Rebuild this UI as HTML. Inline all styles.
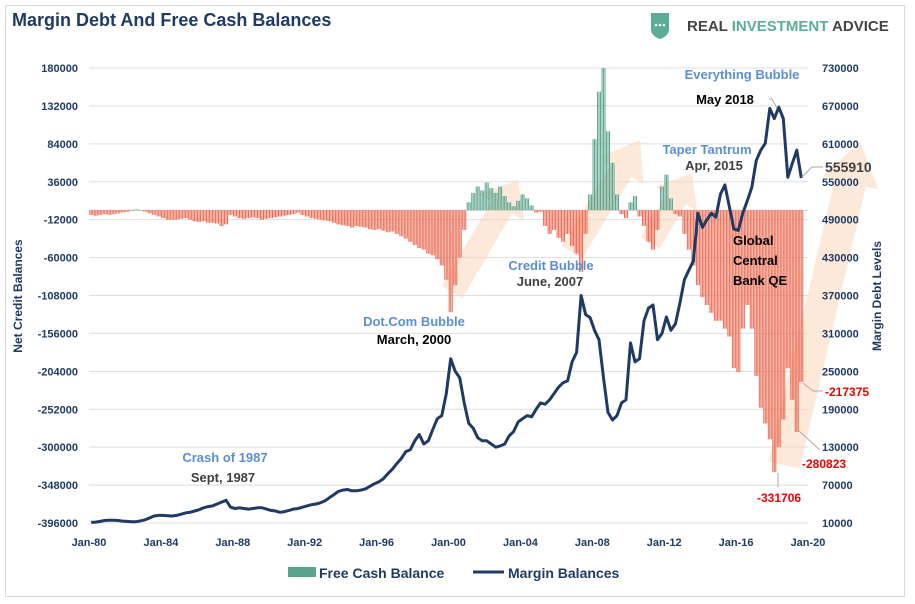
<!DOCTYPE html>
<html><head><meta charset="utf-8"><style>
html,body{margin:0;padding:0;background:#fff}
svg{display:block;font-family:"Liberation Sans",sans-serif}
</style></head><body>
<svg id="chart" width="915" height="604" viewBox="0 0 915 604" xmlns="http://www.w3.org/2000/svg">
<rect x="5.5" y="5.5" width="899" height="591" fill="#fff" stroke="#d9d9d9"/>
<text x="12" y="26" font-size="18" font-weight="bold" fill="#1f3b63">Margin Debt And Free Cash Balances</text>
<g>
<path d="M651 13 L669 13 L669 29 Q669 36 660 39 Q651 36 651 29 Z" fill="#5aae97"/>
<circle cx="656" cy="25" r="1.3" fill="#fff"/><circle cx="660" cy="25" r="1.3" fill="#fff"/><circle cx="664" cy="25" r="1.3" fill="#fff"/>
<text x="687" y="31" font-size="15" font-weight="bold"><tspan fill="#444">REAL </tspan><tspan fill="#5aae97">INVESTMENT </tspan><tspan fill="#444">ADVICE</tspan></text>
</g>
<g id="grid"></g>
<g id="arrows"></g>
<g id="bars"></g>
<g id="line"></g>
<g id="axes"></g>
<g id="notes" font-weight="bold" font-size="13">
<text x="225" y="462" text-anchor="middle" fill="#5b8fd0">Crash of 1987</text>
<text x="223" y="482" text-anchor="middle" fill="#404040">Sept, 1987</text>
<text x="414" y="326" text-anchor="middle" fill="#5b8fd0">Dot.Com Bubble</text>
<text x="414" y="344" text-anchor="middle" fill="#000">March, 2000</text>
<text x="551" y="270" text-anchor="middle" fill="#5b8fd0">Credit Bubble</text>
<text x="550" y="286" text-anchor="middle" fill="#404040">June, 2007</text>
<text x="707" y="154" text-anchor="middle" fill="#5b8fd0">Taper Tantrum</text>
<text x="714" y="170" text-anchor="middle" fill="#404040">Apr, 2015</text>
<text x="742" y="79" text-anchor="middle" fill="#5b8fd0">Everything Bubble</text>
<text x="725" y="104" text-anchor="middle" fill="#000">May 2018</text>
<text x="733" y="245" fill="#000">Global</text>
<text x="733" y="265" fill="#000">Central</text>
<text x="733" y="285" fill="#000">Bank QE</text>
<text x="825" y="172" fill="#404040" font-size="14">555910</text>
<text x="825" y="396" fill="#e00" font-size="12">-217375</text>
<text x="802" y="468" fill="#e00" font-size="12">-280823</text>
<text x="757" y="502" fill="#e00" font-size="12">-331706</text>
<path d="M769 99 L772 99 L777 108" fill="none" stroke="#aaa"/>
<path d="M802 177 L812 167 L823 167" fill="none" stroke="#aaa"/>
<path d="M803 383 L813 391 L823 391" fill="none" stroke="#aaa"/>
<path d="M799 431 L820 450" fill="none" stroke="#aaa"/>
<path d="M778 473 L778 487" fill="none" stroke="#aaa"/>
</g>
<text transform="translate(22,296) rotate(-90)" text-anchor="middle" font-size="12" font-weight="bold" fill="#1f3b63">Net Credit Balances</text>
<text transform="translate(881,296) rotate(-90)" text-anchor="middle" font-size="12" font-weight="bold" fill="#1f3b63">Margin Debt Levels</text>
<g>
<rect x="288" y="567" width="28" height="10" fill="#5ba58f"/>
<text x="319" y="578" font-size="14" font-weight="bold" fill="#1f3b63">Free Cash Balance</text>
<line x1="473" y1="572" x2="504" y2="572" stroke="#1f3b63" stroke-width="3"/>
<text x="508" y="578" font-size="14" font-weight="bold" fill="#1f3b63">Margin Balances</text>
</g>
</svg>
<script>
const startYear = 1980;
const leftTicks = [180000,132000,84000,36000,-12000,-60000,-108000,-156000,-204000,-252000,-300000,-348000,-396000];
const rightTicks = [730000,670000,610000,550000,490000,430000,370000,310000,250000,190000,130000,70000,10000];
const xTickLabels = ["Jan-80","Jan-84","Jan-88","Jan-92","Jan-96","Jan-00","Jan-04","Jan-08","Jan-12","Jan-16","Jan-20"];
const xTickYears = [1980,1984,1988,1992,1996,2000,2004,2008,2012,2016,2020];
// quarterly margin balances, 1980Q1..2019Q3
const marginBalances = [
11000,11500,12500,14000, 14500,14500,14000,13000, 12500,12000,12000,13500, 15000,18000,21000,22000,
22000,21500,21000,22000, 24000,26000,27000,29000, 31000,34000,36000,37000, 40000,43000,46000,35000,
33000,34000,33000,32000, 33000,34000,34000,32000, 30000,29000,27000,28000, 30000,32000,33000,35000,
37000,39000,40000,42000, 45000,50000,55000,60000, 62000,63000,61000,61000, 62000,64000,68000,72000,
75000,80000,88000,95000, 104000,112000,123000,126000, 140000,150000,135000,140000, 158000,175000,180000,215000,
270000,250000,240000,200000, 168000,160000,145000,140000, 140000,135000,130000,132000, 135000,148000,155000,170000,
175000,180000,178000,190000, 200000,198000,205000,215000, 225000,232000,235000,265000, 280000,370000,340000,335000,
315000,300000,240000,185000, 173000,180000,200000,205000, 295000,265000,270000,330000, 350000,355000,300000,310000,
336000,315000,325000,358000, 395000,410000,425000,500000, 478000,490000,500000,494000, 530000,545000,510000,475000,
473000,500000,520000,541000, 584000,600000,611000,666000, 650000,668000,650000,557000, 579000,600000,555910];
// quarterly free cash balances, 1980Q1..2019Q3
const freeCash = [
-6000,-7000,-6000,-5000, -6000,-5000,-4000,-3000, -2000,-1000,1000,0, -2000,-4000,-6000,-8000,
-10000,-12000,-12000,-12000, -11000,-10000,-12000,-14000, -15000,-14000,-16000,-16000, -17000,-20000,-18000,-6000,
-8000,-10000,-11000,-10000, -9000,-10000,-12000,-11000, -10000,-9000,-8000,-7000, -6000,-5000,-3000,-6000,
-8000,-10000,-11000,-12000, -13000,-14000,-16000,-18000, -19000,-20000,-22000,-20000, -21000,-22000,-24000,-25000,
-24000,-26000,-28000,-27000, -30000,-33000,-36000,-40000, -44000,-48000,-50000,-55000, -57000,-62000,-70000,-88000,
-129000,-95000,-60000,-25000, 10000,22000,30000,25000, 35000,28000,22000,30000, 18000,10000,5000,12000,
20000,15000,6000,-3000, -2000,-20000,-30000,-25000, -35000,-40000,-30000,-45000, -55000,-78000,-30000,20000,
90000,150000,180000,100000, 60000,20000,-5000,-10000, 10000,18000,-8000,-20000, -40000,-50000,-25000,30000,
45000,15000,-5000,-8000, -30000,-50000,-70000,-95000, -110000,-120000,-130000,-140000, -140000,-150000,-160000,-200000,
-205000,-150000,-120000,-150000, -210000,-250000,-270000,-290000, -331706,-300000,-265000,-200000, -240000,-280823,-217375];

const NS="http://www.w3.org/2000/svg";
const X0=89, X1=808, Y0=68, Y1=523;
function xScale(t){return X0+(t-1980)*(X1-X0)/40;}
function yLeft(v){return Y0+(180000-v)*(Y1-Y0)/576000;}
function yRight(v){return Y0+(730000-v)*(Y1-Y0)/720000;}
function mk(tag,attrs,parent){const e=document.createElementNS(NS,tag);for(const k in attrs)e.setAttribute(k,attrs[k]);parent.appendChild(e);return e;}

const grid=document.getElementById('grid'), axes=document.getElementById('axes');
leftTicks.forEach((v,i)=>{
  const y=yLeft(v);
  const g=mk('line',{x1:X0,x2:X1,y1:y,y2:y,stroke:'#dedede','stroke-width':1},grid);
  
  
  const t=mk('text',{x:78,y:y+4,'text-anchor':'end','font-size':11,'font-weight':'bold',fill:'#1f3b63'},axes);
  t.textContent=v;
  
  
});
rightTicks.forEach(v=>{
  const t=mk('text',{x:822,y:yRight(v)+4,'font-size':11,'font-weight':'bold',fill:'#1f3b63'},axes);
  t.textContent=v;
  
  
});
xTickLabels.forEach((lab,i)=>{
  const t=mk('text',{x:xScale(xTickYears[i]),y:546,'text-anchor':'middle','font-size':11,'font-weight':'bold',fill:'#1f3b63'},axes);
  t.textContent=lab;
  
  
});
const zl=mk('line',{x1:X0,x2:X1,y1:yLeft(0),y2:yLeft(0),stroke:'#d0d0d0'},grid);



// background arrows
const arrows=document.getElementById('arrows');
function arrow(tx,ty,hx,hy,w,hw,hl){
  const dx=hx-tx,dy=hy-ty,L=Math.hypot(dx,dy),ux=dx/L,uy=dy/L,px=-uy,py=ux;
  const bx=hx-ux*hl,by=hy-uy*hl;
  const pts=[[tx+px*w/2,ty+py*w/2],[bx+px*w/2,by+py*w/2],[bx+px*hw/2,by+py*hw/2],[hx,hy],[bx-px*hw/2,by-py*hw/2],[bx-px*w/2,by-py*w/2],[tx-px*w/2,ty-py*w/2]];
  const p=mk('polygon',{points:pts.map(q=>q.join(',')).join(' '),fill:'#fbd3b5','fill-opacity':0.5},arrows);
  
  
}
arrow(452,292,518,180,24,52,32);
arrow(572,252,640,140,24,52,36);
arrow(650,243,692,173,22,48,30);
arrow(784,465,860,142,32,58,42);

// bars: each quarterly value drawn as thin monthly-width bars
const bars=document.getElementById('bars');
const y0=yLeft(0);
freeCash.forEach((v,i)=>{
  const y=yLeft(v);
  for(let m=0;m<3;m++){
    const t=startYear+i/4+(m+0.5)/12;
    const b=mk('rect',{x:xScale(t)-0.5,y:Math.min(y,y0),width:1,height:Math.max(0.5,Math.abs(y-y0)),fill:v>=0?'#5ba58f':'#ec6a52'},bars);
    
    
  }
});
// line
const pts=marginBalances.map((v,i)=>[xScale(startYear+i/4+0.125),yRight(v)]);
const ln=mk('path',{d:'M'+pts.map(p=>p[0].toFixed(1)+' '+p[1].toFixed(1)).join(' L'),fill:'none',stroke:'#1f3b63','stroke-width':3,'stroke-linejoin':'round'},document.getElementById('line'));


</script>
</body></html>
